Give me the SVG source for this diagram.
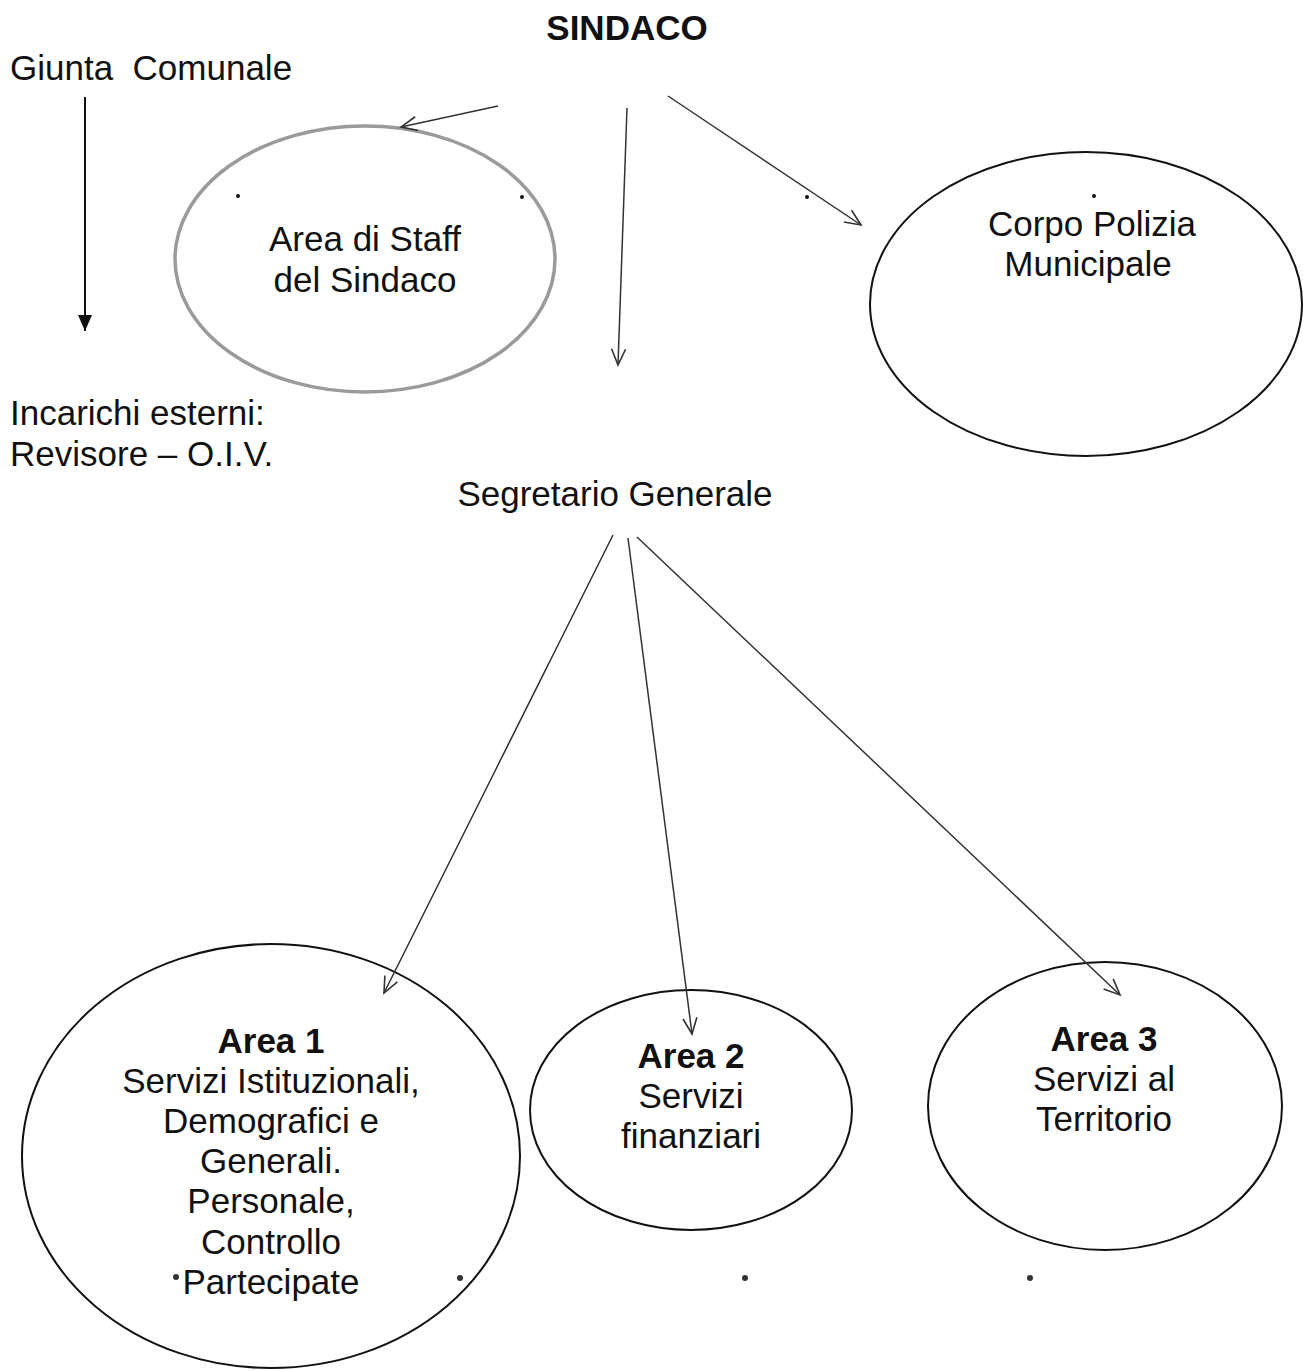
<svg xmlns="http://www.w3.org/2000/svg" width="1303" height="1370" viewBox="0 0 1303 1370">
<style>
text{font-family:"Liberation Sans",Arial,sans-serif;font-size:35px;fill:#111}
.c{text-anchor:middle}
.b{font-weight:bold}
.n{fill:none;stroke:#111;stroke-width:2}
.e{stroke:#333;stroke-width:1.5;fill:none}
</style>
<defs>
<marker id="open" markerUnits="userSpaceOnUse" markerWidth="24" markerHeight="20" refX="18" refY="8" orient="auto">
<path d="M2,1 L18,8 L2,15" fill="none" stroke="#333" stroke-width="1.6"/>
</marker>
<marker id="fill" markerUnits="userSpaceOnUse" markerWidth="18" markerHeight="16" refX="16" refY="7" orient="auto">
<path d="M0,0 L16,7 L0,14 Z" fill="#111"/>
</marker>
</defs>
<rect width="1303" height="1370" fill="#fff"/>
<g id="sindaco"><text class="c b" x="627" y="40">SINDACO</text></g>
<g id="giunta"><text x="10" y="80" xml:space="preserve">Giunta  Comunale</text></g>
<g id="incarichi"><text x="10" y="425">Incarichi esterni:</text><text x="10" y="466">Revisore – O.I.V.</text></g>
<g id="segretario"><text class="c" x="615" y="506">Segretario Generale</text></g>
<g id="staff">
<ellipse cx="365" cy="259" rx="190" ry="133" fill="none" stroke="#9a9a9a" stroke-width="3.5"/>
<text class="c" x="365" y="251">Area di Staff</text><text class="c" x="365" y="292">del Sindaco</text>
<circle cx="238" cy="196" r="2" fill="#111"/><circle cx="522" cy="197" r="2" fill="#111"/>
</g>
<g id="polizia">
<ellipse class="n" cx="1086" cy="304" rx="216" ry="152"/>
<text class="c" x="1092" y="236">Corpo Polizia</text><text class="c" x="1088" y="276">Municipale</text>
<circle cx="1094" cy="196" r="2" fill="#111"/>
</g>
<g id="area1">
<ellipse class="n" cx="271" cy="1156" rx="249" ry="212"/>
<text class="c b" x="271" y="1053">Area 1</text>
<text class="c" x="271" y="1093">Servizi Istituzionali,</text>
<text class="c" x="271" y="1133">Demografici e</text>
<text class="c" x="271" y="1173">Generali.</text>
<text class="c" x="271" y="1213">Personale,</text>
<text class="c" x="271" y="1254">Controllo</text>
<text class="c" x="271" y="1294">Partecipate</text>
<circle cx="176" cy="1277" r="3" fill="#333"/><circle cx="460" cy="1278" r="3" fill="#333"/>
</g>
<g id="area2">
<ellipse class="n" cx="691" cy="1110" rx="161" ry="120"/>
<text class="c b" x="691" y="1068">Area 2</text>
<text class="c" x="691" y="1108">Servizi</text>
<text class="c" x="691" y="1148">finanziari</text>
</g>
<g id="area3">
<ellipse class="n" cx="1105" cy="1106" rx="177" ry="144"/>
<text class="c b" x="1104" y="1051">Area 3</text>
<text class="c" x="1104" y="1091">Servizi al</text>
<text class="c" x="1104" y="1131">Territorio</text>
</g>
<g id="specks"><circle cx="745" cy="1278" r="3" fill="#333"/><circle cx="1030" cy="1278" r="3" fill="#333"/><circle cx="807" cy="197" r="2" fill="#111"/></g>
<g id="connectors">
<line x1="85" y1="97" x2="85" y2="331" stroke="#111" stroke-width="2" marker-end="url(#fill)"/>
<line class="e" x1="498" y1="106" x2="401" y2="127" marker-end="url(#open)"/>
<line class="e" x1="627" y1="108" x2="618" y2="365" marker-end="url(#open)"/>
<line class="e" x1="668" y1="96" x2="861" y2="225" marker-end="url(#open)"/>
<line class="e" x1="613" y1="535" x2="384" y2="993" marker-end="url(#open)"/>
<line class="e" x1="628" y1="538" x2="692" y2="1034" marker-end="url(#open)"/>
<line class="e" x1="637" y1="537" x2="1120" y2="995" marker-end="url(#open)"/>
</g>
</svg>
